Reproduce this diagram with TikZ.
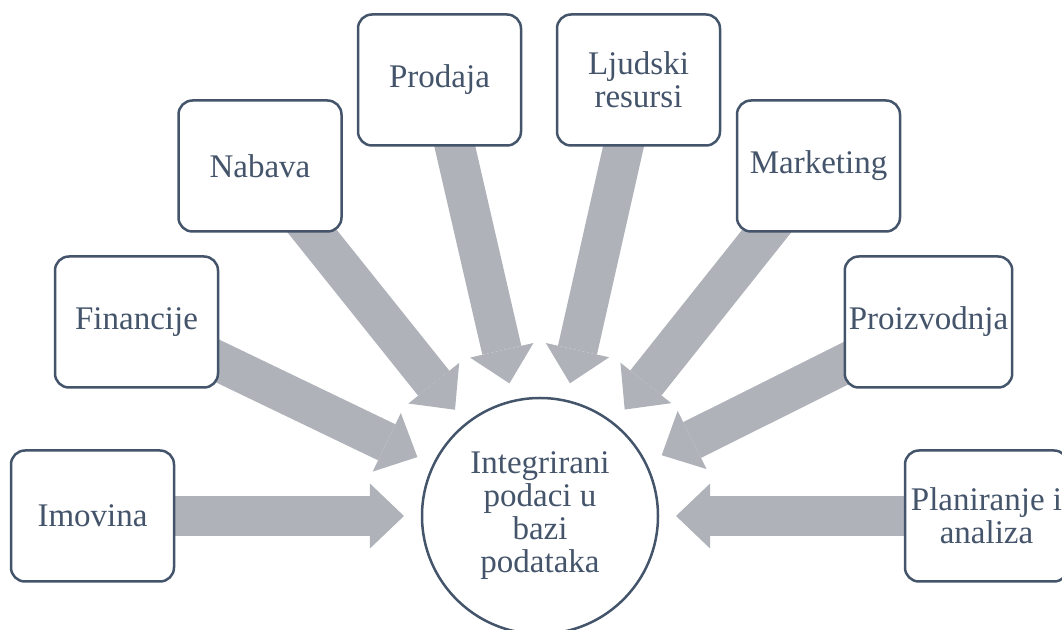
\documentclass[tikz,border=0pt]{standalone}
\usepackage{fontspec}
\setmainfont{Liberation Serif}
\usepackage{xcolor}
\usetikzlibrary{arrows.meta, positioning, backgrounds}
\definecolor{slate}{HTML}{44546A}
\definecolor{arrowgray}{HTML}{AFB2B9}

\begin{document}
\begin{tikzpicture}[x=0.5pt,y=-0.5pt,
                    main node/.style={rectangle,rounded corners=7pt,draw=slate,fill=white,
                      line width=1.25pt,minimum width=81.5pt,minimum height=65.5pt,
                      inner sep=2pt,align=center,text=slate,
                      font=\fontsize{16.5}{16.3}\selectfont},
                    hub node/.style={circle,draw=slate,fill=white,line width=1.25pt,
                      minimum size=118pt,inner sep=0pt,align=center,text=slate,
                      font=\fontsize{16.5}{16.5}\selectfont},
                    flow/.style={color=arrowgray,line width=20pt,
                      -{Triangle[width=32.5pt,length=17pt,line width=0pt]},shorten >=8.4pt}]

  \useasboundingbox (0,0) rectangle (1062,630);

  \node[hub node] (hub) at (540,516) {Integrirani\\podaci u\\bazi\\podataka};

  \node[main node] (a) at (92.5,516) {Imovina};
  \node[main node] (b) at (136.5,322) {Financije};
  \node[main node] (c) at (260,166) {Nabava};
  \node[main node] (d) at (439.5,80) {Prodaja};
  \node[main node] (e) at (638.5,80) {Ljudski\\resursi};
  \node[main node] (f) at (818.5,166) {Marketing};
  \node[main node] (g) at (928.5,322) {Proizvodnja};
  \node[main node] (h) at (986.5,516) {Planiranje i\\analiza};

  \begin{scope}[on background layer]
    \path[flow]
    (a.center) edge (hub)
    (b.center) edge (hub)
    (c.center) edge (hub)
    (d.center) edge (hub)
    (e.center) edge (hub)
    (f.center) edge (hub)
    (g.center) edge (hub)
    (h.center) edge (hub);
  \end{scope}
\end{tikzpicture}
\end{document}
